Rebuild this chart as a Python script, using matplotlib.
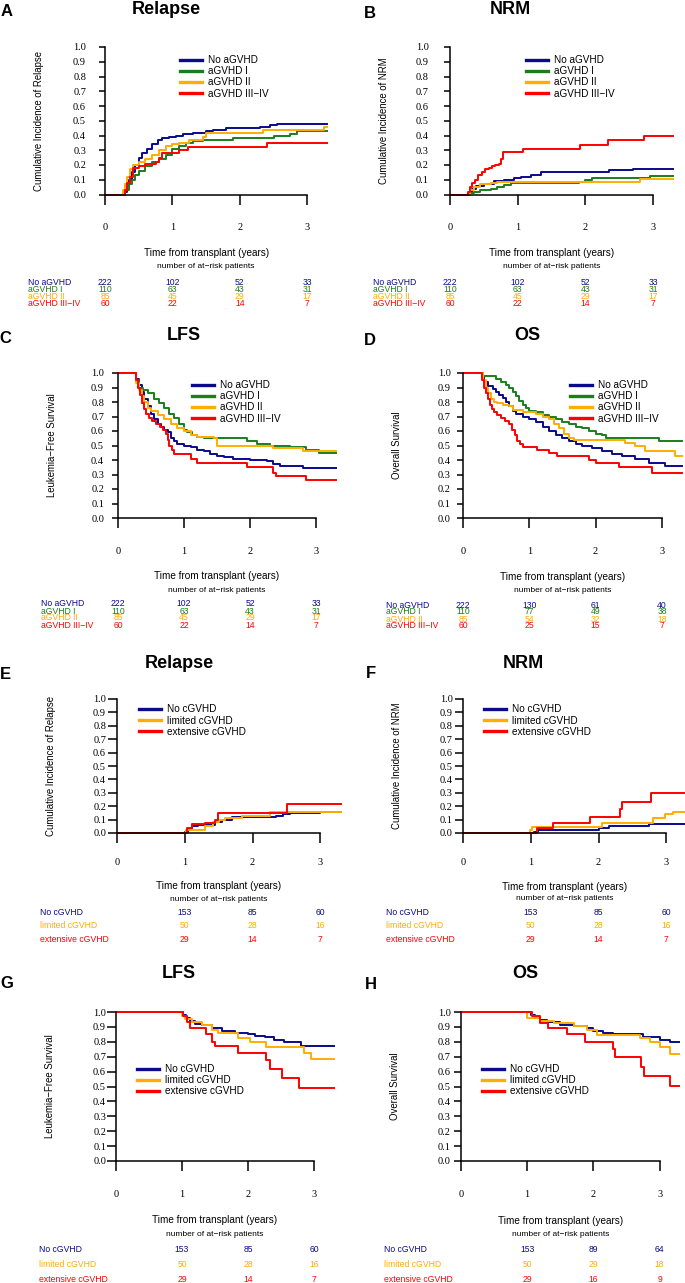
import numpy as np
import matplotlib.pyplot as plt
import matplotlib.transforms as mtransforms

plt.rcParams['font.family'] = ['Liberation Sans', 'DejaVu Sans']

W, H = 685, 1283
BLUE, GREEN, ORANGE, RED = '#0a0a8c', '#1b7d1b', '#ffad00', '#ff0000'

a_groups = ['No aGVHD', 'aGVHD I', 'aGVHD II', 'aGVHD III\u2212IV']
c_groups = ['No cGVHD', 'limited cGVHD', 'extensive cGVHD']
a_colors = [BLUE, GREEN, ORANGE, RED]
c_colors = [BLUE, ORANGE, RED]

# ---- A: relapse by aGVHD grade (cumulative incidence)
A_t = [[0, .27, .32, .36, .40, .45, .50, .55, .62, .70, .78, .85, .95, 1.05, 1.15, 1.3, 1.5, 1.6, 1.8, 2.3, 2.45, 2.55, 3.3],
       [0, .30, .35, .40, .45, .50, .60, .70, .80, .90, 1.0, 1.1, 1.2, 1.3, 1.45, 1.9, 2.5, 2.75, 2.85, 3.3],
       [0, .27, .30, .33, .37, .42, .50, .60, .70, .80, .90, 1.0, 1.1, 1.25, 1.45, 1.5, 2.35, 3.25, 3.3],
       [0, .30, .33, .37, .42, .50, .60, .75, .80, .85, 1.1, 1.23, 2.4, 3.3]]
A_v = [[0, .02, .06, .10, .15, .20, .25, .28, .31, .34, .37, .38, .39, .40, .41, .42, .43, .44, .45, .46, .47, .48, .48],
       [0, .03, .07, .10, .13, .16, .19, .22, .24, .27, .31, .33, .35, .36, .37, .38, .40, .41, .43, .43],
       [0, .03, .07, .12, .17, .20, .22, .24, .27, .30, .33, .34, .35, .37, .39, .415, .435, .46, .46],
       [0, .03, .08, .12, .18, .19, .21, .22, .25, .28, .30, .32, .35, .35]]

# ---- B: NRM by aGVHD grade
B_t = [[0, .28, .32, .38, .50, .65, .80, .95, 1.05, 1.2, 1.35, 2.1, 2.35, 2.7, 3.3],
       [0, .30, .35, .45, .60, .70, .80, .90, 1.9, 2.0, 2.1, 2.95, 3.3],
       [0, .30, .35, .45, .60, .70, 2.8, 3.3],
       [0, .27, .30, .33, .37, .42, .47, .52, .57, .62, .67, .72, .76, .79, 1.08, 1.92, 2.34, 2.86, 3.3]]
B_v = [[0, .02, .04, .06, .07, .09, .10, .11, .12, .135, .15, .155, .165, .175, .175],
       [0, .01, .02, .03, .04, .05, .065, .076, .085, .10, .11, .125, .125],
       [0, .03, .05, .07, .08, .087, .107, .107],
       [0, .02, .05, .08, .10, .13, .15, .17, .18, .19, .20, .21, .24, .29, .31, .335, .37, .40, .40]]

# ---- C: LFS by aGVHD grade
C_t = [[0, .28, .32, .36, .40, .45, .50, .55, .60, .65, .70, .75, .80, .85, .90, 1.0, 1.1, 1.2, 1.3, 1.4, 1.5, 1.6, 1.75, 2.0, 2.25, 2.35, 2.45, 2.8, 3.3],
       [0, .28, .32, .38, .45, .55, .62, .70, .78, .85, .92, 1.0, 1.05, 1.12, 1.2, 1.3, 1.95, 2.1, 2.3, 2.6, 2.85, 3.05, 3.3],
       [0, .28, .32, .36, .40, .45, .50, .60, .70, .80, .90, 1.0, 1.1, 1.2, 1.45, 1.5, 2.35, 2.8, 3.3],
       [0, .28, .31, .34, .37, .40, .43, .47, .52, .58, .63, .68, .72, .76, .78, .82, .85, 1.1, 1.2, 1.95, 2.35, 2.4, 2.85, 3.3]]
C_v = [[1, .96, .92, .87, .82, .77, .72, .68, .65, .63, .61, .59, .55, .53, .51, .50, .49, .47, .46, .44, .43, .42, .41, .40, .39, .37, .36, .345, .345],
       [1, .95, .90, .88, .86, .82, .79, .76, .72, .69, .65, .61, .59, .57, .56, .55, .53, .51, .50, .49, .47, .445, .445],
       [1, .93, .88, .84, .80, .76, .74, .71, .68, .65, .62, .60, .57, .56, .55, .50, .48, .46, .46],
       [1, .95, .90, .85, .79, .75, .72, .69, .67, .65, .63, .61, .58, .54, .50, .47, .44, .41, .38, .35, .31, .29, .26, .26]]

# ---- D: OS by aGVHD grade
D_t = [[0, .28, .32, .38, .45, .50, .55, .60, .65, .70, .75, .80, .90, 1.0, 1.1, 1.2, 1.3, 1.4, 1.5, 1.6, 1.7, 1.8, 1.95, 2.1, 2.25, 2.4, 2.6, 2.8, 3.05, 3.3],
       [0, .30, .50, .58, .65, .70, .75, .80, .85, .90, .95, 1.0, 1.1, 1.2, 1.3, 1.4, 1.5, 1.6, 1.7, 1.8, 1.9, 2.0, 2.1, 2.15, 2.95, 3.3],
       [0, .30, .34, .38, .42, .47, .52, .60, .70, .76, .90, 1.1, 1.2, 1.3, 1.38, 1.45, 1.52, 1.6, 1.67, 2.45, 2.6, 2.75, 3.2, 3.3],
       [0, .28, .31, .34, .37, .40, .43, .47, .52, .58, .64, .70, .74, .78, .82, .86, .90, 1.12, 1.3, 1.42, 1.9, 2.0, 2.35, 2.85, 3.3]]
D_v = [[1, .97, .94, .91, .89, .87, .85, .83, .80, .77, .74, .72, .70, .68, .66, .63, .60, .57, .55, .53, .51, .50, .48, .46, .44, .43, .41, .38, .36, .36],
       [1, .98, .96, .94, .92, .90, .87, .84, .81, .78, .76, .74, .73, .71, .70, .68, .66, .65, .63, .62, .60, .58, .57, .55, .53, .53],
       [1, .95, .90, .86, .82, .80, .79, .78, .77, .745, .73, .72, .70, .68, .65, .62, .58, .55, .535, .52, .50, .46, .43, .43],
       [1, .95, .90, .86, .82, .78, .75, .73, .71, .69, .67, .65, .61, .57, .53, .51, .49, .47, .45, .43, .40, .38, .35, .31, .31]]

# ---- E: relapse by cGVHD
E_t = [[0, 1.0, 1.05, 1.1, 1.2, 1.45, 1.55, 1.7, 2.35, 2.45, 2.55, 3.0, 3.3],
       [0, 1.02, 1.3, 1.42, 1.5, 1.6, 1.85, 2.25, 3.3],
       [0, 1.03, 1.1, 1.3, 1.45, 1.49, 2.5, 3.3]]
E_v = [[0, .01, .03, .05, .06, .08, .10, .12, .13, .14, .15, .16, .16],
       [0, .02, .05, .08, .10, .11, .13, .16, .16],
       [0, .035, .07, .075, .10, .15, .215, .215]]

# ---- F: NRM by cGVHD
F_t = [[0, 1.05, 1.1, 2.0, 2.15, 2.75, 3.3],
       [0, .99, 1.02, 2.05, 2.8, 2.98, 3.1, 3.3],
       [0, 1.09, 1.33, 1.88, 2.31, 2.34, 2.77, 3.3]]
F_v = [[0, .01, .025, .035, .055, .065, .065],
       [0, .02, .045, .075, .11, .145, .16, .16],
       [0, .035, .075, .12, .18, .235, .30, .30]]

# ---- G: LFS by cGVHD
G_t = [[0, 1.02, 1.06, 1.12, 1.2, 1.3, 1.45, 1.6, 1.8, 2.0, 2.1, 2.25, 2.4, 2.55, 2.8, 3.3],
       [0, 1.0, 1.05, 1.15, 1.3, 1.45, 1.55, 1.85, 2.03, 2.28, 2.85, 2.96, 3.3],
       [0, 1.02, 1.07, 1.12, 1.37, 1.45, 1.5, 1.85, 2.28, 2.33, 2.52, 2.77, 3.3]]
G_v = [[1, .98, .96, .94, .92, .91, .89, .87, .86, .85, .84, .83, .81, .80, .775, .775],
       [1, .97, .95, .93, .915, .88, .86, .825, .80, .765, .725, .685, .685],
       [1, .97, .93, .89, .85, .80, .77, .725, .68, .62, .555, .49, .49]]

# ---- H: OS by cGVHD
H_t = [[0, 1.05, 1.12, 1.2, 1.3, 1.5, 1.7, 1.9, 2.0, 2.15, 2.3, 2.75, 3.0, 3.15, 3.3],
       [0, 1.0, 1.2, 1.4, 1.7, 1.9, 2.05, 2.7, 2.85, 3.0, 3.15, 3.3],
       [0, 1.07, 1.2, 1.32, 1.6, 1.88, 2.3, 2.33, 2.72, 2.76, 3.16, 3.3]]
H_v = [[1, .98, .96, .945, .93, .91, .905, .89, .875, .86, .85, .83, .815, .80, .80],
       [1, .96, .94, .925, .905, .88, .845, .825, .80, .765, .715, .715],
       [1, .97, .925, .89, .85, .80, .75, .70, .63, .57, .505, .505]]

# number at risk
risk_a = [[222, 102, 52, 33], [110, 63, 43, 31], [85, 45, 29, 17], [60, 22, 14, 7]]
risk_a_os = [[222, 130, 61, 40], [110, 77, 49, 38], [85, 54, 32, 18], [60, 25, 15, 7]]
risk_c = [[153, 85, 60], [50, 28, 16], [29, 14, 7]]
risk_c_os = [[153, 89, 64], [50, 29, 18], [29, 16, 9]]

fig = plt.figure(figsize=(W / 100, H / 100), dpi=100)
PT = 0.72  # points per pixel


def fx(x):
    return x / W


def fy(y):
    return 1 - y / H


# layout of each panel in pixels
panels = [
    dict(letter='A', title='Relapse', ylab='Cumulative Incidence of Relapse', t=A_t, v=A_v, risk=risk_a,
         groups=a_groups, colors=a_colors, rt=[0, 1, 2, 3],
         x0=105, ppy=67.4, top=47, bot=194.5, ylen=6, gap=19, xpad=19, xlab=253, num=266.7,
         rows=[282.7, 289.5, 296.3, 303.3], tpos=(166, 13.5), lpos=(7, 16), leg=(180, 61), rfs=6.2),
    dict(letter='B', title='NRM', ylab='Cumulative Incidence of NRM', t=B_t, v=B_v, risk=risk_a,
         groups=a_groups, colors=a_colors, rt=[0, 1, 2, 3],
         x0=450, ppy=67.7, top=47, bot=194.5, ylen=6.5, gap=21, xpad=19, xlab=253.3, num=266.7,
         rows=[282.5, 289.5, 296.7, 304], tpos=(510, 14), lpos=(370, 18), leg=(526, 61), rfs=6.2),
    dict(letter='C', title='LFS', ylab='Leukemia\u2212Free Survival', t=C_t, v=C_v, risk=risk_a,
         groups=a_groups, colors=a_colors, rt=[0, 1, 2, 3],
         x0=118, ppy=66.0, top=373, bot=518, ylen=6.5, gap=14, xpad=19, xlab=576, num=590.7,
         rows=[604, 611, 618, 625], tpos=(184, 340), lpos=(5, 343), leg=(192, 386), rfs=6.2),
    dict(letter='D', title='OS', ylab='Overall Survival', t=D_t, v=D_v, risk=risk_a_os,
         groups=a_groups, colors=a_colors, rt=[0, 1, 2, 3],
         x0=463, ppy=66.3, top=373, bot=518, ylen=6.5, gap=12, xpad=19, xlab=577, num=590.7,
         rows=[605, 612, 619, 626], tpos=(527, 340), lpos=(370, 345), leg=(570, 386), rfs=6.2),
    dict(letter='E', title='Relapse', ylab='Cumulative Incidence of Relapse', t=E_t, v=E_v, risk=risk_c,
         groups=c_groups, colors=c_colors, rt=[1, 2, 3],
         x0=117, ppy=67.8, top=699, bot=833, ylen=9, gap=11, xpad=15, xlab=886, num=899.3,
         rows=[912.7, 926, 939.3], tpos=(179, 668), lpos=(5, 679), leg=(139, 710.5), rfs=6.2),
    dict(letter='F', title='NRM', ylab='Cumulative Incidence of NRM', t=F_t, v=F_v, risk=risk_c,
         groups=c_groups, colors=c_colors, rt=[1, 2, 3],
         x0=463, ppy=67.8, top=699, bot=833, ylen=8.5, gap=10, xpad=15, xlab=886.7, num=899,
         rows=[912.7, 926, 939.3], tpos=(523, 668), lpos=(371, 678), leg=(484, 710.5), rfs=6.2),
    dict(letter='G', title='LFS', ylab='Leukemia\u2212Free Survival', t=G_t, v=G_v, risk=risk_c,
         groups=c_groups, colors=c_colors, rt=[1, 2, 3],
         x0=116, ppy=66.0, top=1012, bot=1161, ylen=9, gap=10, xpad=19, xlab=1220, num=1235,
         rows=[1250, 1264.3, 1279.3], tpos=(179, 978), lpos=(7, 988), leg=(137, 1070), rfs=6.2),
    dict(letter='H', title='OS', ylab='Overall Survival', t=H_t, v=H_v, risk=risk_c_os,
         groups=c_groups, colors=c_colors, rt=[1, 2, 3],
         x0=461, ppy=66.2, top=1012, bot=1161, ylen=7.5, gap=10, xpad=19, xlab=1220.7, num=1235,
         rows=[1250, 1264.3, 1279.3], tpos=(525, 978), lpos=(371, 989), leg=(482, 1070), rfs=6.2),
]

XMAX = 3.3
for p in panels:
    ax = fig.add_axes([fx(p['x0']), fy(p['bot']), p['ppy'] * XMAX / W, (p['bot'] - p['top']) / H])
    ax.set_xlim(0, XMAX)
    ax.set_ylim(0, 1)
    ax.patch.set_alpha(0)
    for s in ['top', 'right']:
        ax.spines[s].set_visible(False)
    ax.spines['left'].set_bounds(0, 1)
    ax.spines['bottom'].set_bounds(0, 3)
    for s in ['left', 'bottom']:
        ax.spines[s].set_linewidth(1.1)

    handles = []
    for t, v, c in zip(p['t'], p['v'], p['colors']):
        ln, = ax.step(t, v, where='post', color=c, lw=1.4, clip_on=False)
        handles.append(ln)

    ax.set_xticks([0, 1, 2, 3])
    ax.set_yticks(np.round(np.arange(0, 1.01, 0.1), 1))
    ax.set_yticklabels(['%.1f' % y for y in np.arange(0, 1.01, 0.1)])
    ax.tick_params(axis='x', length=10 * PT, width=1.1, pad=p['xpad'] * PT)
    ax.tick_params(axis='y', length=p['ylen'] * PT, width=1.1, pad=(p['gap'] - p['ylen']) * PT)
    for lab in ax.get_xticklabels() + ax.get_yticklabels():
        lab.set_fontfamily('Liberation Serif')
        lab.set_fontsize(7.5)

    leg = ax.legend(handles, p['groups'], loc='upper left',
                    bbox_to_anchor=(fx(p['leg'][0]), fy(p['leg'][1] - 6)),
                    bbox_transform=fig.transFigure, frameon=False, fontsize=7.2,
                    handlelength=2.2, handletextpad=0.6, labelspacing=0.12,
                    borderpad=0, borderaxespad=0)
    for ln in leg.get_lines():
        ln.set_linewidth(2.4)

    # titles, letters, axis labels
    fig.text(fx(p['tpos'][0]), fy(p['tpos'][1]), p['title'], ha='center', va='baseline',
             fontsize=13, fontweight='bold')
    fig.text(fx(p['lpos'][0]), fy(p['lpos'][1]), p['letter'], ha='center', va='baseline',
             fontsize=12, fontweight='bold')
    fig.text(fx(p['x0'] - 66), fy((p['top'] + p['bot']) / 2), p['ylab'], rotation=90,
             ha='center', va='center', fontsize=6.9)

    tr = mtransforms.blended_transform_factory(ax.transData, fig.transFigure)
    ax.text(1.5, fy(p['xlab']), 'Time from transplant (years)', transform=tr,
            ha='center', va='center', fontsize=7.2, clip_on=False)
    ax.text(1.5, fy(p['num']), 'number of at\u2212risk patients', transform=tr,
            ha='center', va='center', fontsize=6, clip_on=False)

    # at-risk table
    for g, c, counts, ry in zip(p['groups'], p['colors'], p['risk'], p['rows']):
        fig.text(fx(p['x0'] - 77), fy(ry), g, color=c, ha='left', va='center', fontsize=p['rfs'])
        for xt, n in zip(p['rt'], counts):
            ax.text(xt, fy(ry), str(n), transform=tr, color=c, ha='center', va='center',
                    fontsize=p['rfs'], clip_on=False)

fig.savefig('out.png', dpi=100)
